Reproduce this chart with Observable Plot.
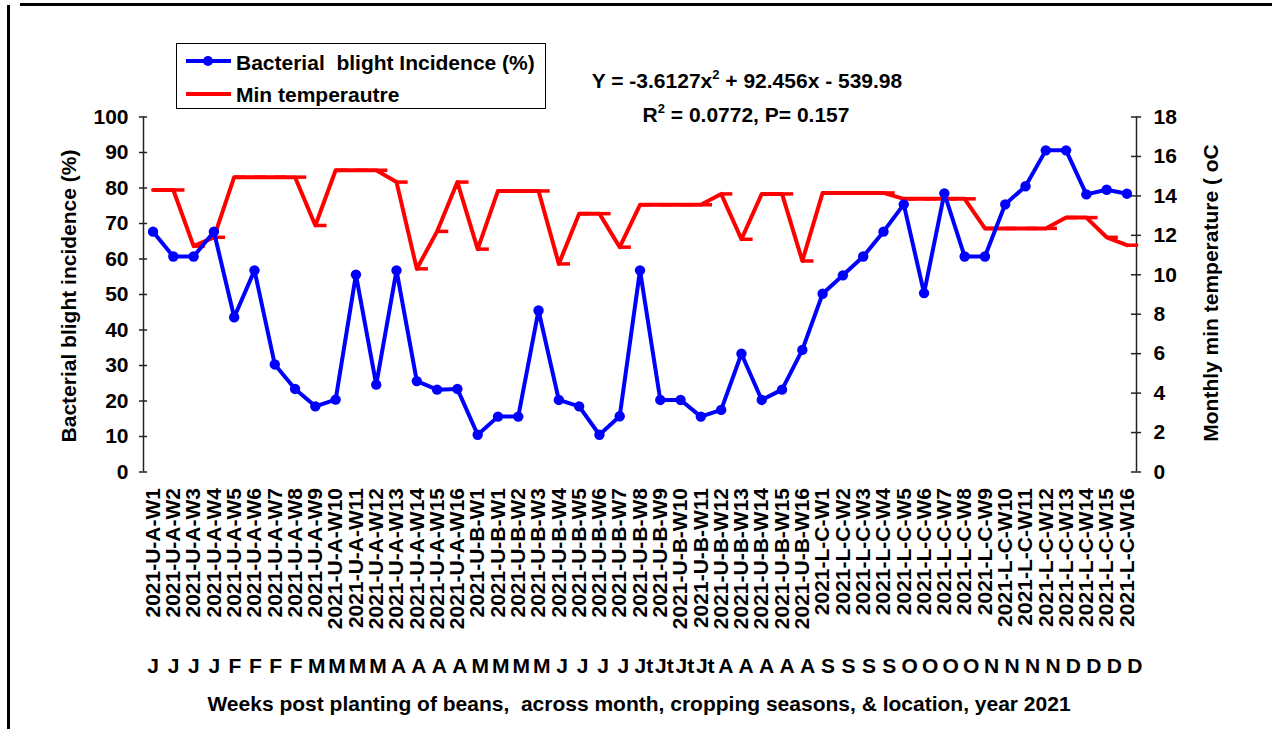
<!DOCTYPE html>
<html><head><meta charset="utf-8">
<script src="https://cdn.jsdelivr.net/npm/d3@7"></script>
<script src="https://cdn.jsdelivr.net/npm/@observablehq/plot@0.6"></script>
<style>
body{margin:0;background:#fff;font-family:"Liberation Sans",Arial,sans-serif;font-weight:bold;color:#000}
#wrap{position:relative;width:1272px;height:729px;overflow:hidden;background:#fff}
#wrap svg{position:absolute;left:0;top:0}
.abs{position:absolute;white-space:pre;font-size:21px;line-height:21px}
.rot{transform:translate(-50%,-50%) rotate(-90deg)}
#legend{position:absolute;left:176px;top:43px;width:368px;height:64px;border:1.5px solid #000;background:#fff}
#months{position:absolute;left:142.8px;top:655px;display:flex;font-size:21px;line-height:21px}
#months span{display:inline-block;width:20.46px;text-align:center;white-space:nowrap;overflow:visible}
</style></head><body><div id="wrap"></div>
<script>
const weekLabels = [
  "2021-U-A-W1","2021-U-A-W2","2021-U-A-W3","2021-U-A-W4","2021-U-A-W5","2021-U-A-W6","2021-U-A-W7","2021-U-A-W8",
  "2021-U-A-W9","2021-U-A-W10","2021-U-A-W11","2021-U-A-W12","2021-U-A-W13","2021-U-A-W14","2021-U-A-W15","2021-U-A-W16",
  "2021-U-B-W1","2021-U-B-W1","2021-U-B-W2","2021-U-B-W3","2021-U-B-W4","2021-U-B-W5","2021-U-B-W6","2021-U-B-W7",
  "2021-U-B-W8","2021-U-B-W9","2021-U-B-W10","2021-U-B-W11","2021-U-B-W12","2021-U-B-W13","2021-U-B-W14","2021-U-B-W15",
  "2021-U-B-W16","2021-L-C-W1","2021-L-C-W2","2021-L-C-W3","2021-L-C-W4","2021-L-C-W5","2021-L-C-W6","2021-L-C-W7",
  "2021-L-C-W8","2021-L-C-W9","2021-L-C-W10","2021-L-C-W11","2021-L-C-W12","2021-L-C-W13","2021-L-C-W14","2021-L-C-W15",
  "2021-L-C-W16"
];
const monthLetters = [
  "J","J","J","J","F","F","F","F","M","M","M","M","A","A","A","A","M","M","M","M",
  "J","J","J","J","Jt","Jt","Jt","Jt","A","A","A","A","A","S","S","S","S",
  "O","O","O","O","N","N","N","N","D","D","D","D"
];
const incidence = [
  67.7,60.7,60.7,67.7,43.6,56.8,30.3,23.4,18.5,20.4,55.6,24.6,56.8,25.6,23.2,23.4,
  10.5,15.6,15.6,45.5,20.3,18.5,10.5,15.7,56.8,20.3,20.3,15.6,17.5,33.3,20.3,23.2,
  34.4,50.2,55.4,60.7,67.7,75.4,50.4,78.5,60.7,60.7,75.4,80.5,90.6,90.6,78.2,79.5,78.4
];
const minTemp = [
  14.3,14.3,11.45,11.9,14.95,14.95,14.95,14.95,12.5,15.3,15.3,15.3,14.7,10.3,12.2,14.7,
  11.3,14.25,14.25,14.25,10.55,13.1,13.1,11.4,13.55,13.55,13.55,13.55,14.1,11.8,14.1,14.1,
  10.7,14.15,14.15,14.15,14.15,13.85,13.85,13.85,13.85,12.35,12.35,12.35,12.35,12.9,12.9,11.9,11.5
];
const leftTicks = [0,10,20,30,40,50,60,70,80,90,100];
const rightTicks = [0,2,4,6,8,10,12,14,16,18];
const seriesNames = ["Bacterial  blight Incidence (%)", "Min temperautre"];
const leftTitle = "Bacterial blight incidence (%)";
const rightTitle = "Monthly min temperature ( oC";
const xTitle = "Weeks post planting of beans,  across month, cropping seasons, & location, year 2021";

const idx = d3.range(weekLabels.length);
const pad = 0.47;
const xMin = -pad, xMax = idx.length - 1 + pad;
const toPct = t => t * 100 / 18;
const font = '"Liberation Sans", Arial, sans-serif';

const chart = Plot.plot({
  width: 1272, height: 729,
  marginLeft: 143, marginRight: 136, marginTop: 116.5, marginBottom: 257.5,
  x: {type: "linear", domain: [xMin, xMax]},
  y: {domain: [0, 100]},
  style: {fontFamily: font, fontWeight: "bold", fontSize: "21px", color: "#000", background: "transparent", overflow: "visible"},
  marks: [
    Plot.ruleX([xMin, xMax], {x: d => d, y1: () => 0, y2: () => 100, stroke: "#222", strokeWidth: 1.5}),
    Plot.ruleY(leftTicks, {y: d => d, x1: () => xMin - 0.2, x2: () => xMin + 0.2, stroke: "#222", strokeWidth: 1.5}),
    Plot.ruleY(rightTicks, {y: d => toPct(d), x1: () => xMax - 0.25, x2: () => xMax + 0.25, stroke: "#222", strokeWidth: 1.5}),
    Plot.axisY({ticks: leftTicks, anchor: "left", tickSize: 0, tickPadding: 15, label: null, fontSize: 21, fontWeight: "bold"}),
    Plot.axisY({ticks: rightTicks.map(toPct), tickFormat: d => String(Math.round(d * 18 / 100)), anchor: "right", tickSize: 0, tickPadding: 17, label: null, fontSize: 21, fontWeight: "bold"}),
    Plot.axisX({ticks: idx, tickFormat: i => weekLabels[i], tickRotate: -90, tickSize: 0, tickPadding: 16, label: null, fontSize: 21, fontWeight: "bold"}),
    Plot.line(idx, {x: i => i, y: i => toPct(minTemp[i]), stroke: "#ff0000", strokeWidth: 4}),
    Plot.link(idx, {x1: i => i, x2: i => i + 0.55, y1: i => toPct(minTemp[i]), y2: i => toPct(minTemp[i]), stroke: "#ff0000", strokeWidth: 3.5}),
    Plot.line(idx, {x: i => i, y: i => incidence[i], stroke: "#0000ff", strokeWidth: 4}),
    Plot.dot(idx, {x: i => i, y: i => incidence[i], r: 5.2, fill: "#0000ff", stroke: "none"})
  ]
});

const wrap = document.getElementById("wrap");
wrap.appendChild(chart);

function addDiv(cls, text, css, html) {
  const d = document.createElement("div");
  d.className = cls;
  if (html) d.innerHTML = html; else d.textContent = text;
  Object.assign(d.style, css);
  wrap.appendChild(d);
  return d;
}
// page frame (top and left edges)
addDiv("", "", {position: "absolute", left: "20px", top: "3px", width: "1252px", height: "3px", background: "#000"});
addDiv("", "", {position: "absolute", left: "7px", top: "5px", width: "3px", height: "724px", background: "#000"});

// legend
const lg = addDiv("", "", {}, "");
lg.id = "legend";
lg.innerHTML =
  `<svg width="60" height="70" style="position:absolute;left:7px;top:0">
     <line x1="2" y1="17" x2="47" y2="17" stroke="#0000ff" stroke-width="4"/>
     <circle cx="24" cy="17" r="5" fill="#0000ff"/>
     <line x1="2" y1="50" x2="47" y2="50" stroke="#ff0000" stroke-width="4"/>
   </svg>`;
addDiv("abs", seriesNames[0], {left: "236px", top: "51.5px"});
addDiv("abs", seriesNames[1], {left: "236px", top: "84px"});

// equation
addDiv("abs", "", {left: "747px", top: "70px", transform: "translateX(-50%)"},
  "Y = -3.6127x<sup style='font-size:13px;vertical-align:9px;line-height:0'>2</sup> + 92.456x - 539.98");
addDiv("abs", "", {left: "746px", top: "104px", transform: "translateX(-50%)"},
  "R<sup style='font-size:13px;vertical-align:9px;line-height:0'>2</sup> = 0.0772, P= 0.157");

// axis titles
addDiv("abs rot", leftTitle, {left: "68px", top: "296px"});
addDiv("abs rot", rightTitle, {left: "1210px", top: "293px"});
addDiv("abs", xTitle, {left: "639px", top: "693px", transform: "translateX(-50%)"});

// month letters row
const mr = document.createElement("div");
mr.id = "months";
monthLetters.forEach(m => { const s = document.createElement("span"); s.textContent = m; mr.appendChild(s); });
wrap.appendChild(mr);
</script>
</body></html>
